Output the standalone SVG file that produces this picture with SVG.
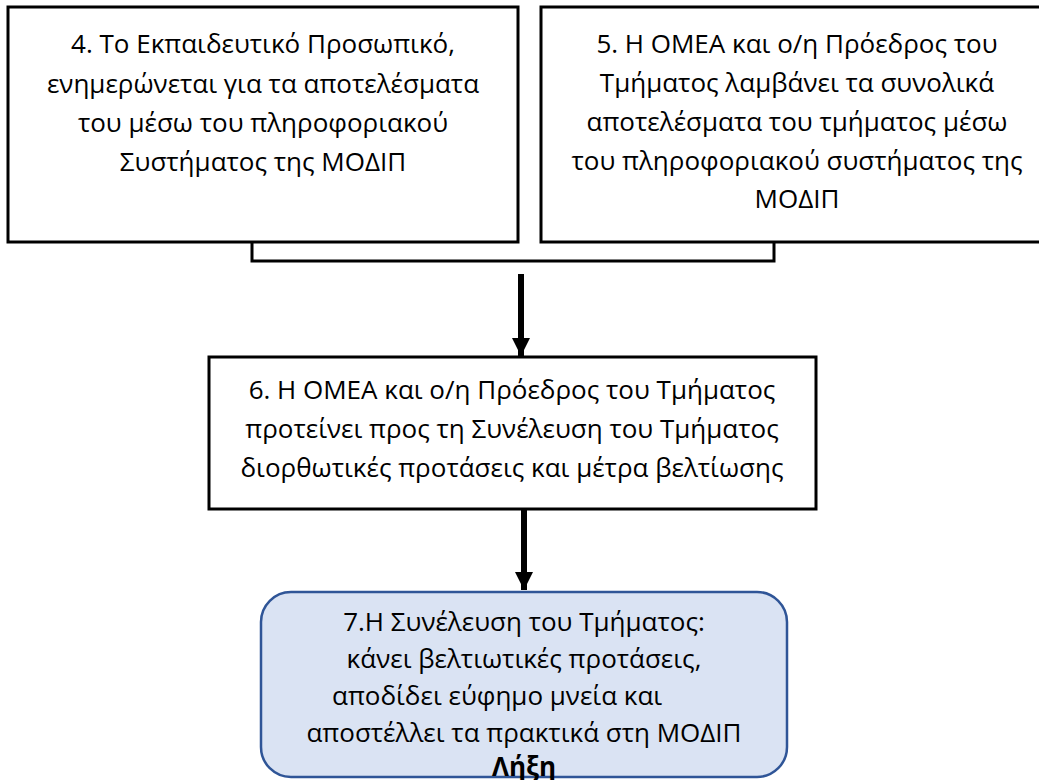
<svg xmlns="http://www.w3.org/2000/svg" width="1039" height="780" viewBox="0 0 1039 780">
<style>
.box{fill:#ffffff;stroke:#000000;stroke-width:3}
.end{fill:#dae3f3;stroke:#2f5597;stroke-width:2.5}
.t{font-family:"Open Sans","Noto Sans","DejaVu Sans",sans-serif;font-size:26px;fill:#000000;text-anchor:middle}
.b{font-weight:bold}
.con{fill:none;stroke:#000000}
</style>
<defs>
<marker id="ah" markerWidth="3" markerHeight="3" refX="3" refY="1.5" orient="auto" markerUnits="strokeWidth">
<path d="M0,0 L3,1.5 L0,3 Z" fill="#000000"/>
</marker>
</defs>
<rect width="1039" height="780" fill="#ffffff"/>
<g id="connectors">
<path class="con" stroke-width="3" d="M252,242 V261 H774 V242"/>
<line class="con" stroke-width="6" x1="521" y1="274" x2="521" y2="356" marker-end="url(#ah)"/>
<line class="con" stroke-width="6" x1="524" y1="509" x2="524" y2="590" marker-end="url(#ah)"/>
</g>
<g id="node4">
<rect class="box" x="8" y="7" width="510" height="235"/>
<text class="t" x="263" y="53">4. Το Εκπαιδευτικό Προσωπικό,</text>
<text class="t" x="263" y="93">ενημερώνεται για τα αποτελέσματα</text>
<text class="t" x="263" y="132">του μέσω του πληροφοριακού</text>
<text class="t" x="263" y="171">Συστήματος της ΜΟΔΙΠ</text>
</g>
<g id="node5">
<rect class="box" x="541" y="7" width="512" height="235"/>
<text class="t" x="797" y="53">5. Η ΟΜΕΑ και ο/η Πρόεδρος του</text>
<text class="t" x="797" y="92">Τμήματος λαμβάνει τα συνολικά</text>
<text class="t" x="797" y="131">αποτελέσματα του τμήματος μέσω</text>
<text class="t" x="797" y="170">του πληροφοριακού συστήματος της</text>
<text class="t" x="797" y="208">ΜΟΔΙΠ</text>
</g>
<g id="node6">
<rect class="box" x="209" y="357" width="607" height="152"/>
<text class="t" x="512" y="399">6. Η ΟΜΕΑ και ο/η Πρόεδρος του Τμήματος</text>
<text class="t" x="512" y="438">προτείνει προς τη Συνέλευση του Τμήματος</text>
<text class="t" x="512" y="477">διορθωτικές προτάσεις και μέτρα βελτίωσης</text>
</g>
<g id="node7">
<rect class="end" x="261" y="592" width="526" height="185" rx="30" ry="30"/>
<text class="t" x="524" y="631">7.Η Συνέλευση του Τμήματος:</text>
<text class="t" x="524" y="668">κάνει βελτιωτικές προτάσεις,</text>
<text class="t" x="332" y="705" style="text-anchor:start">αποδίδει εύφημο μνεία και</text>
<text class="t" x="524" y="742">αποστέλλει τα πρακτικά στη ΜΟΔΙΠ</text>
<text class="t b" x="524" y="776">Λήξη</text>
</g>
</svg>
